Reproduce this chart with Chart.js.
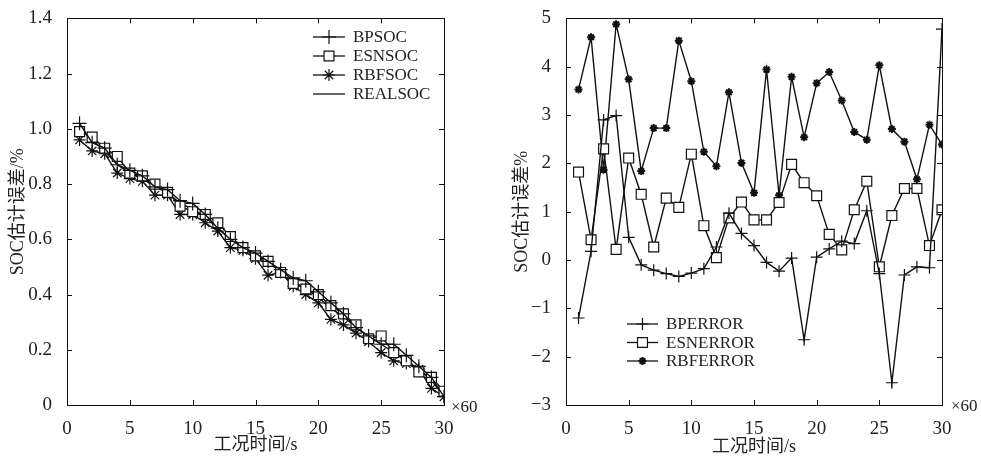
<!DOCTYPE html>
<html lang="zh">
<head>
  <meta charset="UTF-8" />
  <title>SOC估计</title>
  <script src="https://cdn.jsdelivr.net/npm/chart.js"></script>
  <style>
    body { margin: 0; background: #fff; width: 981px; height: 458px; position: relative; overflow: hidden; }
    .box { position: absolute; top: 0; height: 458px; }
    .mult { position: absolute; font: 17px "Liberation Serif", serif; color: #222; }
  </style>
</head>
<body>
  <div class="box" style="left:0;width:490px"><canvas id="socChart"></canvas></div>
  <div class="box" style="left:490px;width:491px"><canvas id="errChart"></canvas></div>
  <div class="mult" style="left:451px;top:397px">×60</div>
  <div class="mult" style="left:951px;top:396px">×60</div>

  <script>
    // time axis (×60 s)
    const time = [1, 2, 3, 4, 5, 6, 7, 8, 9, 10, 11, 12, 13, 14, 15, 16, 17, 18, 19, 20, 21, 22, 23, 24, 25, 26, 27, 28, 29, 30];

    // left: SOC estimates
    const bpSoc = [1.02, 0.95, 0.93, 0.87, 0.85, 0.83, 0.79, 0.78, 0.74, 0.73, 0.69, 0.64, 0.60, 0.57, 0.55, 0.52, 0.49, 0.46, 0.45, 0.41, 0.37, 0.33, 0.28, 0.25, 0.22, 0.22, 0.18, 0.14, 0.10, 0.03];
    const esnSoc = [0.99, 0.97, 0.93, 0.90, 0.84, 0.83, 0.80, 0.77, 0.72, 0.70, 0.69, 0.66, 0.61, 0.57, 0.54, 0.52, 0.48, 0.44, 0.42, 0.40, 0.36, 0.33, 0.29, 0.24, 0.25, 0.19, 0.16, 0.12, 0.10, 0.05];
    const rbfSoc = [0.96, 0.92, 0.91, 0.84, 0.82, 0.81, 0.76, 0.76, 0.69, 0.69, 0.66, 0.63, 0.57, 0.56, 0.53, 0.47, 0.48, 0.43, 0.40, 0.37, 0.31, 0.29, 0.26, 0.23, 0.19, 0.16, 0.15, 0.13, 0.06, 0.03];
    const realSoc = [1.00, 0.96, 0.92, 0.87, 0.84, 0.82, 0.79, 0.77, 0.73, 0.71, 0.68, 0.64, 0.60, 0.57, 0.54, 0.51, 0.49, 0.45, 0.42, 0.39, 0.35, 0.32, 0.28, 0.25, 0.22, 0.19, 0.16, 0.13, 0.09, 0.03];

    // right: estimation errors (%)
    const bpErr = [-1.20, 0.18, 2.90, 2.99, 0.47, -0.10, -0.21, -0.28, -0.34, -0.27, -0.18, 0.27, 0.97, 0.55, 0.30, -0.05, -0.23, 0.04, -1.65, 0.06, 0.23, 0.39, 0.34, 1.02, -0.28, -2.54, -0.31, -0.14, -0.16, 4.78];
    const esnErr = [1.82, 0.42, 2.30, 0.22, 2.11, 1.36, 0.27, 1.28, 1.09, 2.19, 0.71, 0.05, 0.87, 1.20, 0.83, 0.83, 1.19, 1.98, 1.60, 1.33, 0.53, 0.21, 1.04, 1.63, -0.14, 0.92, 1.48, 1.48, 0.30, 1.04];
    const rbfErr = [3.53, 4.61, 1.87, 4.88, 3.74, 1.84, 2.73, 2.73, 4.54, 3.70, 2.24, 1.94, 3.47, 2.01, 1.39, 3.94, 1.34, 3.79, 2.54, 3.66, 3.89, 3.30, 2.65, 2.49, 4.03, 2.71, 2.45, 1.67, 2.80, 2.39];

    const xTicks = [0, 5, 10, 15, 20, 25, 30];
    const socTicks = [0, 0.2, 0.4, 0.6, 0.8, 1.0, 1.2, 1.4];
    const errTicks = [-3, -2, -1, 0, 1, 2, 3, 4, 5];

    const serif = '"Liberation Serif", "Noto Sans CJK SC", serif';
    const ink = '#111';
    const textInk = '#222';

    const pts = arr => arr.map((v, i) => ({ x: time[i], y: v }));

    function series(label, arr, style, radius, extra) {
      return Object.assign({
        label: label,
        data: pts(arr),
        borderColor: ink,
        borderWidth: 1.4,
        pointStyle: style,
        pointRadius: radius,
        pointBorderColor: ink,
        pointBackgroundColor: '#fff',
        pointBorderWidth: 1.2,
        tension: 0,
        fill: false
      }, extra || {});
    }

    // box round the plot with inward ticks on all four sides
    const frame = {
      id: 'frame',
      afterDraw(chart) {
        const { ctx, chartArea: a, scales: { x, y } } = chart;
        ctx.save();
        ctx.strokeStyle = ink;
        ctx.lineWidth = 1;
        ctx.strokeRect(Math.round(a.left) + 0.5, Math.round(a.top) + 0.5, Math.round(a.width), Math.round(a.height));
        ctx.beginPath();
        x.ticks.forEach(t => {
          const px = Math.round(x.getPixelForValue(t.value)) + 0.5;
          ctx.moveTo(px, a.bottom); ctx.lineTo(px, a.bottom - 5);
          ctx.moveTo(px, a.top); ctx.lineTo(px, a.top + 5);
        });
        y.ticks.forEach(t => {
          const py = Math.round(y.getPixelForValue(t.value)) + 0.5;
          ctx.moveTo(a.left, py); ctx.lineTo(a.left + 5, py);
          ctx.moveTo(a.right, py); ctx.lineTo(a.right - 5, py);
        });
        ctx.stroke();
        ctx.restore();
      }
    };

    // matlab-like legend: line with marker in the middle, no box
    const lineLegend = {
      id: 'lineLegend',
      afterDraw(chart, args, opts) {
        const { ctx } = chart;
        ctx.save();
        ctx.font = '17px ' + serif;
        ctx.textBaseline = 'middle';
        ctx.fillStyle = textInk;
        chart.data.datasets.forEach((ds, i) => {
          const y = opts.top + i * opts.rowGap;
          ctx.strokeStyle = ink;
          ctx.lineWidth = 1.3;
          ctx.beginPath();
          ctx.moveTo(opts.left, y);
          ctx.lineTo(opts.left + opts.lineLen, y);
          ctx.stroke();
          if (ds.pointRadius > 0) {
            ctx.lineWidth = ds.pointBorderWidth;
            ctx.fillStyle = ds.pointBackgroundColor;
            Chart.helpers.drawPoint(ctx, { pointStyle: ds.pointStyle, radius: ds.pointRadius, rotation: 0, borderWidth: ds.pointBorderWidth }, opts.left + opts.lineLen / 2, y);
            ctx.fillStyle = textInk;
          }
          ctx.fillText(ds.label, opts.left + opts.lineLen + 8, y + 1);
        });
        ctx.restore();
      }
    };

    function axes(yMin, yMax, yTickVals, yFmt, yTitlePad, xTitlePad, yAxisWidth) {
      return {
        x: {
          type: 'linear', min: 0, max: 30,
          afterBuildTicks: s => { s.ticks = xTicks.map(v => ({ value: v })); },
          afterFit: s => { s.height = 53; },
          grid: { display: false },
          border: { display: false },
          ticks: { color: textInk, font: { family: serif, size: 19 }, padding: 5, maxRotation: 0 },
          title: { display: true, text: '工况时间/s', color: textInk, font: { family: serif, size: 18 }, padding: { top: 0, bottom: xTitlePad } }
        },
        y: {
          type: 'linear', min: yMin, max: yMax,
          afterBuildTicks: s => { s.ticks = yTickVals.map(v => ({ value: v })); },
          afterFit: s => { s.width = yAxisWidth; },
          grid: { display: false },
          border: { display: false },
          ticks: { color: textInk, font: { family: serif, size: 19 }, padding: 7, callback: yFmt },
          title: { display: true, color: textInk, font: { family: serif, size: 18 }, padding: { top: yTitlePad, bottom: 0 } }
        }
      };
    }

    // left chart
    const leftScales = axes(0, 1.4, socTicks, v => v === 0 ? '0' : v.toFixed(1), 7, 2, 67);
    leftScales.y.title.text = 'SOC估计误差/%';
    new Chart(document.getElementById('socChart'), {
      type: 'line',
      data: {
        datasets: [
          series('BPSOC', bpSoc, 'cross', 7),
          series('ESNSOC', esnSoc, 'rect', 7),
          series('RBFSOC', rbfSoc, 'star', 6),
          series('REALSOC', realSoc, 'circle', 0)
        ]
      },
      options: {
        responsive: true,
        maintainAspectRatio: false,
        animation: false,
        layout: { padding: { top: 16, right: 46, bottom: 0, left: 0 } },
        scales: leftScales,
        plugins: {
          legend: { display: false },
          tooltip: { enabled: false },
          lineLegend: { left: 313, top: 37, rowGap: 19, lineLen: 32 }
        }
      },
      plugins: [frame, lineLegend]
    });

    // right chart
    const rightScales = axes(-3, 5, errTicks, v => v < 0 ? '\u2212' + Math.abs(v) : String(v), 21, 0, 76);
    rightScales.y.title.text = 'SOC估计误差%';
    new Chart(document.getElementById('errChart'), {
      type: 'line',
      data: {
        datasets: [
          series('BPERROR', bpErr, 'cross', 6),
          series('ESNERROR', esnErr, 'rect', 7),
          series('RBFERROR', rbfErr, 'star', 4, { pointBorderWidth: 2 })
        ]
      },
      options: {
        responsive: true,
        maintainAspectRatio: false,
        animation: false,
        layout: { padding: { top: 16, right: 39, bottom: 0, left: 0 } },
        scales: rightScales,
        plugins: {
          legend: { display: false },
          tooltip: { enabled: false },
          lineLegend: { left: 137, top: 324, rowGap: 18.5, lineLen: 31 }
        }
      },
      plugins: [frame, lineLegend]
    });
  </script>
</body>
</html>
